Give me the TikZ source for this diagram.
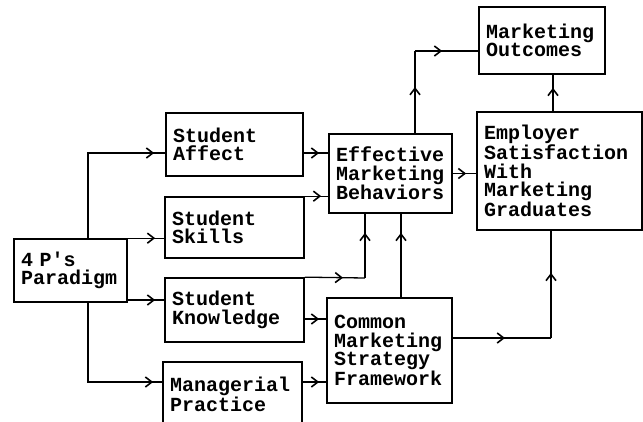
\documentclass[tikz,border=0pt]{standalone}
\usepackage{fontspec}
\newfontfamily\boxfont{Liberation Mono}
\usetikzlibrary{arrows.meta,decorations.markings}
\begin{document}
\begin{tikzpicture}[x=1pt,y=-1pt]
    \tikzstyle{block}=[draw, line width=1.7pt, inner xsep=7pt, inner ysep=0pt, align=left, font={\boxfont\bfseries\fontsize{20}{18.5}\selectfont}]
    \tikzset{edge/.style={draw, line width=1.3pt, postaction={decorate},
        decoration={markings, mark=at position #1 with {\arrow{Straight Barb[length=6.5pt,width=10pt,line width=1.6pt]}}}},
        edge/.default=-10pt}
    \clip (0,0) rectangle (643,421);
    \begin{scope}
        \node [block, minimum height=63pt, text width=99pt] (para) at (70.5,270.5) {4 P{\char"27}s\\Paradigm};
        \node [block, minimum height=63pt, text width=123pt] (affect) at (234.5,144.5) {Student\\Affect};
        \node [block, minimum height=61pt, text width=125pt] (skills) at (234.5,227.5) {Student\\Skills};
        \node [block, minimum height=64pt, text width=125pt] (knowl) at (234.5,310) {Student\\Knowledge};
        \node [block, minimum height=64pt, text width=125pt] (manag) at (232.5,394) {Managerial\\Practice};
        \node [block, minimum height=79pt, text width=109pt] (emb) at (390.5,173.5) {Effective\\Marketing\\Behaviors};
        \node [block, minimum height=67pt, text width=112pt] (outc) at (542,40.5) {Marketing\\Outcomes};
        \node [block, minimum height=118pt, text width=151pt] (empl) at (559.5,171) {Employer\\Satisfaction\\With\\Marketing\\Graduates};
        \node [block, minimum height=105pt, text width=111pt] (cmsf) at (389.5,350.5) {Common\\Marketing\\Strategy\\Framework};
        \coordinate (kcorner) at (365,278);
        \coordinate (ccorner) at (551,338);
        \coordinate (ocorner) at (415,51);
        % from the paradigm
        \draw[edge=-11pt] ([xshift=17.5pt]para.north) |- ([yshift=-8.5pt]affect.west);
        \draw[edge=-9pt] ([xshift=17.5pt]para.north) -- (para.north -| skills.west);
        \draw[edge=-9pt] ([yshift=10pt]knowl.west -| para.east) -- ([yshift=10pt]knowl.west);
        \draw[edge=-9pt] ([xshift=17.5pt]para.south) |- ([yshift=12pt]manag.west);
        % into behaviors
        \draw[edge=-9pt] ([yshift=-8.5pt]affect.east) -- ([yshift=-8.5pt]affect.east -| emb.west);
        \draw[edge=-7pt] (skills.north east) -- (skills.north east -| emb.west);
        \draw[edge=-22pt] (knowl.north east) -- (kcorner);
        \draw[edge=-19pt] (kcorner) -- (kcorner |- emb.south);
        \draw[edge=-19pt] ([xshift=11.5pt]cmsf.north) -- ([xshift=11.5pt]cmsf.north |- emb.south);
        % into framework
        \draw[edge=-7pt] ([yshift=-9pt]knowl.east) -- ([yshift=-9pt]knowl.east -| cmsf.west);
        \draw[edge=-7pt] ([yshift=12pt]manag.east) -- ([yshift=12pt]manag.east -| cmsf.west);
        % outcomes
        \draw[edge=-46pt] ([yshift=12.5pt]cmsf.east) -- (ccorner);
        \draw[edge=-42pt] (ccorner) -- (ccorner |- empl.south);
        \draw[edge] (emb.east) -- (emb.east -| empl.west);
        \draw[edge=-36pt] (ocorner |- emb.north) -- (ocorner);
        \draw[edge=-36pt] (ocorner) -- (ocorner -| outc.west);
        \draw[edge=-13pt] ([xshift=-6.5pt]empl.north) -- ([xshift=-6.5pt]empl.north |- outc.south);
    \end{scope}
\end{tikzpicture}
\end{document}
